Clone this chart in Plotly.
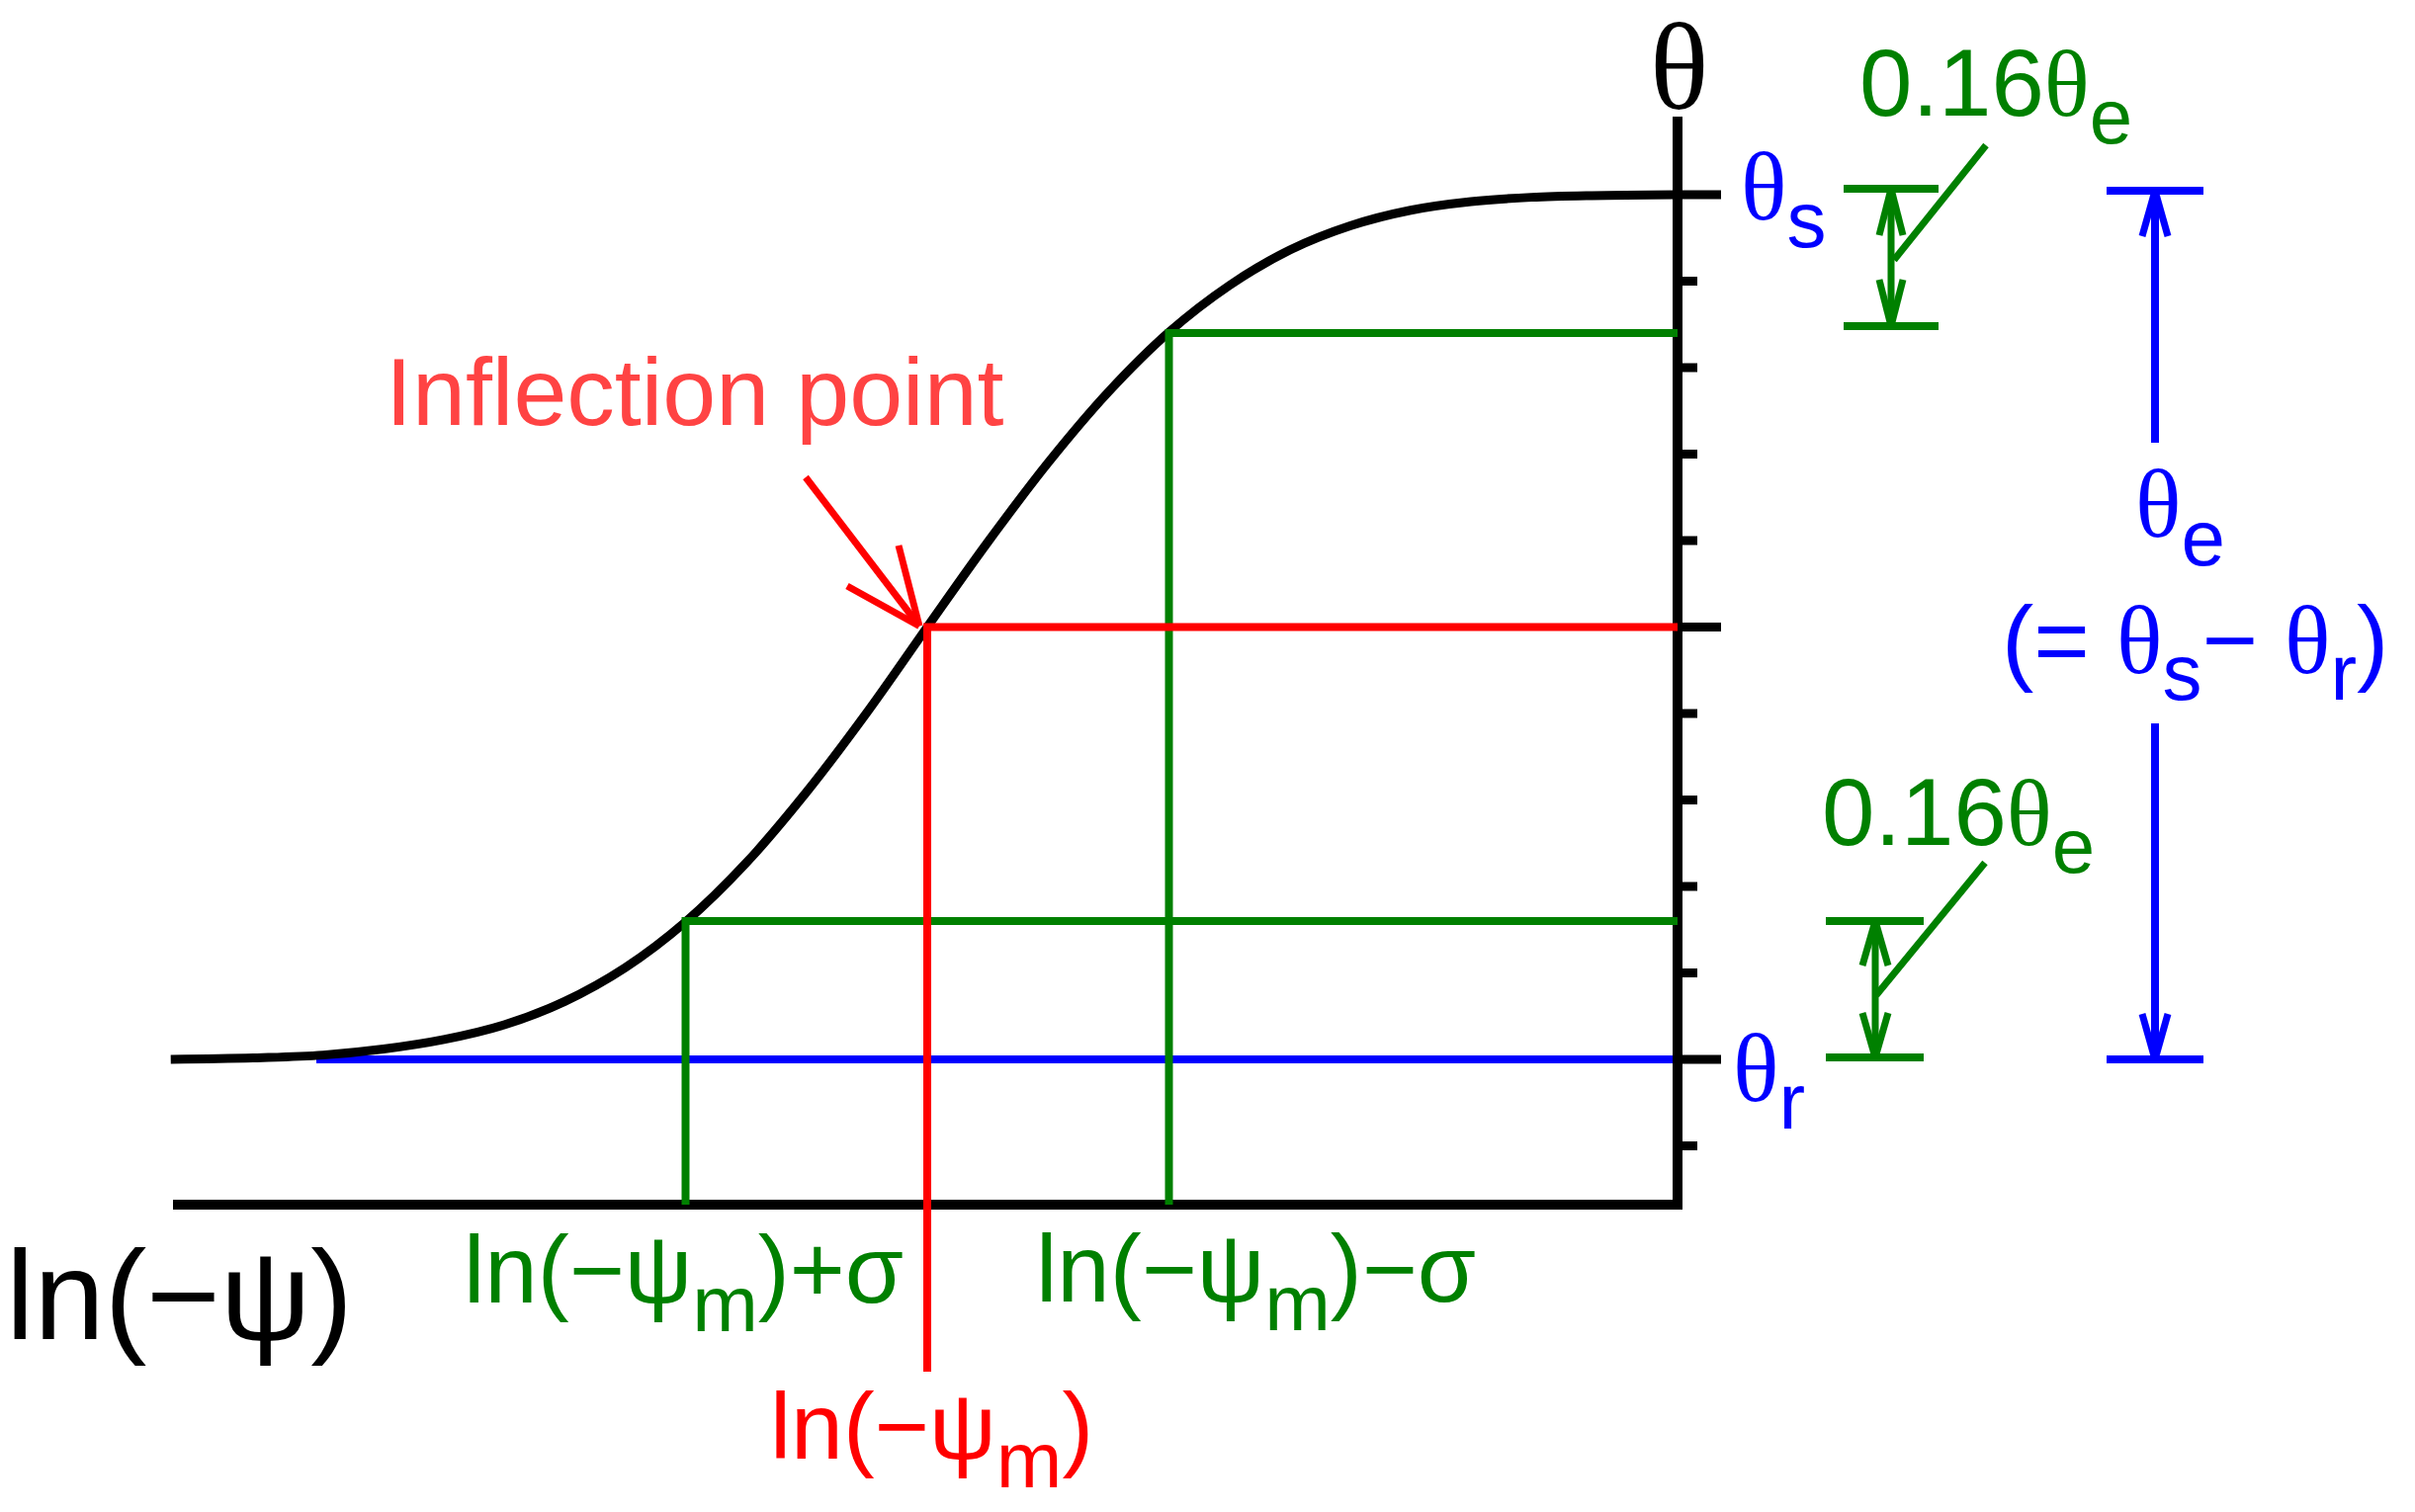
import plotly.graph_objects as go

# ---------------- data ----------------
ln_psi = [3.13, 2.75, 2.50, 2.25, 2.00, 1.75, 1.50, 1.25, 1.00, 0.75, 0.50, 0.25, 0.00,
          -0.25, -0.50, -0.75, -1.00, -1.25, -1.50, -1.75, -2.00, -2.25, -2.50, -2.75, -3.10]
theta = [0.000, 0.002, 0.005, 0.012, 0.023, 0.040, 0.067, 0.106, 0.159, 0.227, 0.309, 0.401, 0.500,
         0.598, 0.690, 0.772, 0.841, 0.895, 0.936, 0.964, 0.982, 0.992, 0.997, 0.999, 1.000]
theta_r = 0.0
theta_s = 1.0
theta_e = theta_s - theta_r
frac = 0.16
ln_psi_m = 0.0
sigma = 1.0
theta_ticks = [-0.1, 0.0, 0.1, 0.2, 0.3, 0.4, 0.5, 0.6, 0.7, 0.8, 0.9, 1.0]
theta_major = [0.0, 0.5, 1.0]

theta_16 = theta_r + frac * theta_e
theta_84 = theta_s - frac * theta_e
theta_m = theta_r + 0.5 * theta_e

# ---------------- layout geometry (pixels) ----------------
W, H = 2443, 1530
XM_PX, SIG_PX = 938.0, 244.5      # pixel of ln(-psi_m), pixels per sigma
YR_PY, YE_PX = 1072.0, 875.0      # pixel of theta_r, pixels per theta_e

def dx(px):
    return ln_psi_m + sigma * (XM_PX - px) / SIG_PX

def dy(py):
    return theta_r + theta_e * (YR_PY - py) / YE_PX

def py_of(t):
    return YR_PY - (t - theta_r) / theta_e * YE_PX

def fx(px):
    return px / W

def fy(py):
    return 1 - py / H

AX_X = dx(1697)
AX_Y = dy(1219)
AX_TOP = dy(118)
AX_LEFT = dx(175)

BLACK, GREEN, RED, BLUE = "#000000", "#008000", "#FF0000", "#0000FF"

fig = go.Figure()

# theta_r line
fig.add_trace(go.Scatter(x=[dx(320), AX_X], y=[theta_r, theta_r], mode="lines",
                         line=dict(color=BLUE, width=8), hoverinfo="skip"))
# retention curve
fig.add_trace(go.Scatter(x=ln_psi, y=theta, mode="lines",
                         line=dict(color=BLACK, width=9, shape="spline", smoothing=1.0),
                         hoverinfo="skip"))
# axes
fig.add_trace(go.Scatter(x=[AX_LEFT, AX_X, AX_X], y=[AX_Y, AX_Y, AX_TOP], mode="lines",
                         line=dict(color=BLACK, width=10), hoverinfo="skip"))
# ticks
tx, ty = [], []
for t in theta_ticks:
    end = dx(1741) if t in theta_major else dx(1717)
    tx += [AX_X, end, None]
    ty += [t, t, None]
fig.add_trace(go.Scatter(x=tx, y=ty, mode="lines", line=dict(color=BLACK, width=9),
                         hoverinfo="skip"))
# green guide lines
gx, gy = [], []
for lvl, xs in [(theta_16, ln_psi_m + sigma), (theta_84, ln_psi_m - sigma)]:
    gx += [AX_X, xs, xs, None]
    gy += [lvl, lvl, AX_Y, None]
fig.add_trace(go.Scatter(x=gx, y=gy, mode="lines", line=dict(color=GREEN, width=8),
                         hoverinfo="skip"))
# red guide lines
fig.add_trace(go.Scatter(x=[AX_X, ln_psi_m, ln_psi_m], y=[theta_m, theta_m, dy(1388)],
                         mode="lines", line=dict(color=RED, width=8), hoverinfo="skip"))

shapes = []

def seg(x0, y0, x1, y1, color, width):
    shapes.append(dict(type="line", xref="paper", yref="paper",
                       x0=fx(x0), y0=fy(y0), x1=fx(x1), y1=fy(y1),
                       line=dict(color=color, width=width)))

# red arrow to inflection point
tipx, tipy = 930, py_of(theta_m) - 1
seg(815, 483, tipx, tipy, RED, 7)
seg(909, 552, tipx, tipy, RED, 7)
seg(857, 593, tipx, tipy, RED, 7)

def bracket(xl, xr, xc, ytop, ybot, color, hw, hl, gap=None):
    seg(xl, ytop, xr, ytop, color, 8)
    seg(xl, ybot, xr, ybot, color, 8)
    if gap is None:
        seg(xc, ytop, xc, ybot, color, 7)
    else:
        seg(xc, ytop, xc, gap[0], color, 8)
        seg(xc, gap[1], xc, ybot, color, 8)
    seg(xc, ytop, xc - hw, ytop + hl, color, 7)
    seg(xc, ytop, xc + hw, ytop + hl, color, 7)
    seg(xc, ybot, xc - hw, ybot - hl, color, 7)
    seg(xc, ybot, xc + hw, ybot - hl, color, 7)

bracket(1865, 1961, 1913, py_of(theta_s) - 6, py_of(theta_84) - 7, GREEN, 12, 47)
seg(2009, 147, 1916, 263, GREEN, 7)
bracket(1847, 1946, 1897, py_of(theta_16), py_of(theta_r) - 2, GREEN, 13, 45)
seg(2008, 873, 1898, 1007, GREEN, 7)
bracket(2131, 2229, 2180, py_of(theta_s) - 4, py_of(theta_r), BLUE, 13, 46, gap=(448, 732))

SANS = "Liberation Sans, Arial, sans-serif"
SERIF = "Liberation Serif, Times New Roman, serif"
TH = '<span style="font-family:Liberation Serif">θ</span>'

def sub(s, size=80, shift=28):
    return f'<span style="font-size:{size}px;baseline-shift:-{shift}px">{s}</span>'

annotations = []

def label(text, px, py, size, color, xanchor="left", yanchor="top", family=SANS):
    annotations.append(dict(text=text, xref="paper", yref="paper", x=fx(px), y=fy(py),
                            xanchor=xanchor, yanchor=yanchor, showarrow=False,
                            borderpad=0, borderwidth=0,
                            font=dict(family=family, size=size, color=color)))

label("θ", 1698, 0, 124, BLACK, xanchor="center", yanchor="top", family=SERIF)
label(TH + sub("s"), 1761, 136, 97, BLUE)
label(TH + sub("r"), 1753, 1028, 97, BLUE)
label("0.16" + TH + sub("e", 78), 1881, 30, 96, GREEN)
label("0.16" + TH + sub("e", 78), 1843, 768, 96, GREEN)
label(TH + sub("e", 80, 29), 2160, 457, 97, BLUE)
label("(= " + TH + sub("s", 80, 27) + "− " + TH + sub("r", 80, 27) + ")", 2025, 593, 97, BLUE)
label("Inflection point", 390, 342, 97, "#FF4343")
label("ln(−ψ)", 6, 1239, 128, BLACK)
label("ln(−ψ" + sub("m", 80, 29) + ")+σ", 469, 1231, 96, GREEN)
label("ln(−ψ" + sub("m", 80, 29) + ")−σ", 1048, 1230, 96, GREEN)
label("ln(−ψ" + sub("m", 80, 29) + ")", 779, 1390, 95, RED)

fig.update_layout(
    width=W, height=H,
    margin=dict(l=0, r=0, t=0, b=0),
    paper_bgcolor="white", plot_bgcolor="white",
    showlegend=False,
    xaxis=dict(range=[dx(0), dx(W)], visible=False, fixedrange=True),
    yaxis=dict(range=[dy(H), dy(0)], visible=False, fixedrange=True),
    shapes=shapes,
    annotations=annotations,
)

fig.write_html("out.html",
               config={"displayModeBar": False},
               post_script="document.body.style.margin='0';document.body.style.overflow='hidden';")
